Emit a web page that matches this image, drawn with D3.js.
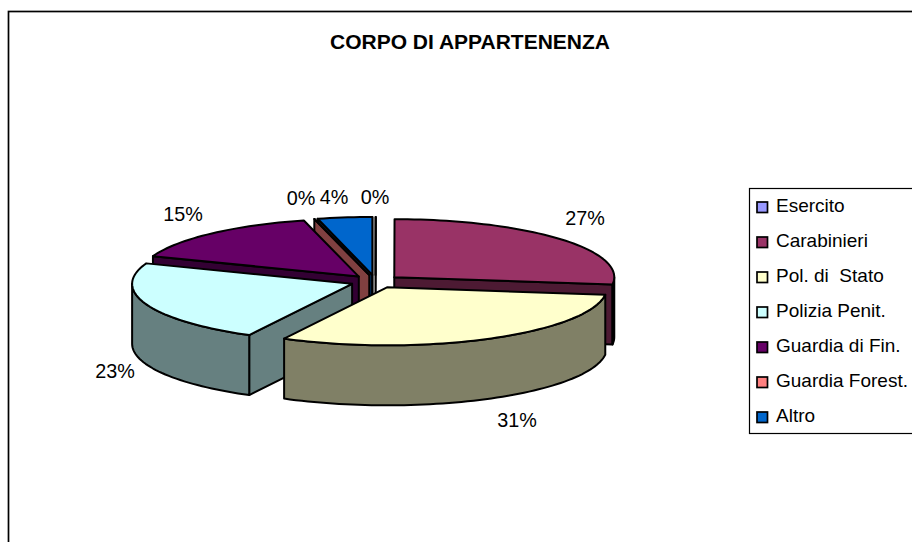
<!DOCTYPE html>
<html><head><meta charset="utf-8">
<style>html,body{margin:0;padding:0;background:#fff}svg{display:block}text{font-family:"Liberation Sans",Arial,sans-serif;fill:#000}</style>
<script src="https://cdn.jsdelivr.net/npm/d3@7/dist/d3.min.js"></script>
</head><body><svg id="c" width="912" height="542"></svg>
<script>
const categories = ["Esercito","Carabinieri","Pol. di  Stato","Polizia Penit.","Guardia di Fin.","Guardia Forest.","Altro"];
const values = [0.02,27,30.75,23,15.25,0.02,4];
const labels = ["0%","27%","31%","23%","15%","0%","4%"];
const topColors = ["#9999FF","#993366","#FFFFCC","#CCFFFF","#660066","#FF8080","#0066CC"];
const wallColors = ["#4D4D80","#4D1A33","#808066","#668080","#330033","#804040","#003366"];
const drawOrder = [0,6,5,1,4,3,2];
const labelPos = [[375,197],[585,218],[517,420],[115,371],[183,214],[301,198],[334,197]];

const svg = d3.select("#c");
const cx=375.5, cy=281.5, rx=220, ry=58, depth=60, explode=25;
const xs = d3.scaleLinear().domain([-1,1]).range([-rx,rx]);
const ys = d3.scaleLinear().domain([-1,1]).range([-ry,ry]);
const arcs = d3.pie().sort(null).value(d=>d)(values);

svg.append("rect").attr("x",8.5).attr("y",11.5).attr("width",950).attr("height",600).attr("fill","#fff").attr("stroke","#000").attr("stroke-width",1.7);

svg.append("text").attr("x",470).attr("y",48.5).attr("text-anchor","middle").attr("font-size",21).attr("font-weight","bold").text("CORPO DI APPARTENENZA");

const line=d3.line();
function pt(a,ox,oy){return [ox+xs(Math.sin(a)),oy+ys(-Math.cos(a))];}
function arcPts(a0,a1,ox,oy){const n=Math.max(2,Math.ceil((a1-a0)/0.03));return d3.range(n+1).map(i=>pt(a0+(a1-a0)*i/n,ox,oy));}
const gp=svg.append("g").attr("stroke","#000").attr("stroke-width",2).attr("stroke-linejoin","round");
drawOrder.forEach(i=>{
  const s=arcs[i], mid=(s.startAngle+s.endAngle)/2;
  const ox=cx+xs(Math.sin(mid))*explode/rx, oy=cy+ys(-Math.cos(mid))*explode/rx;
  const c=[ox,oy], p0=pt(s.startAngle,ox,oy), p1=pt(s.endAngle,ox,oy);
  const d=p=>[p[0],p[1]+depth];
  const wall=pts=>gp.append("path").attr("d",line(pts)+"Z").attr("fill",wallColors[i]);
  if(Math.sin(s.startAngle)<0) wall([c,p0,d(p0),d(c)]);
  if(Math.sin(s.endAngle)>0) wall([c,p1,d(p1),d(c)]);
  const lo=Math.max(s.startAngle,Math.PI/2), hi=Math.min(s.endAngle,Math.PI*1.5);
  if(hi>lo){const o=arcPts(lo,hi,ox,oy);wall(o.concat(o.map(d).reverse()));}
  gp.append("path").attr("d",line([c].concat(arcPts(s.startAngle,s.endAngle,ox,oy)))+"Z").attr("fill",topColors[i]);
});

labels.forEach((t,i)=>svg.append("text").attr("x",labelPos[i][0]).attr("y",labelPos[i][1]+7).attr("text-anchor","middle").attr("font-size",19.8).text(t));

svg.append("rect").attr("x",749.5).attr("y",188.5).attr("width",180).attr("height",245).attr("fill","#fff").attr("stroke","#000").attr("stroke-width",1.2);
const ly=d3.scalePoint().domain(categories).range([207,417]);
categories.forEach((n,i)=>{
  const y=ly(n);
  svg.append("rect").attr("x",757).attr("y",y-5).attr("width",10.5).attr("height",10.5).attr("fill",topColors[i]).attr("stroke","#000").attr("stroke-width",1.7);
  svg.append("text").attr("x",776).attr("y",y+5).attr("font-size",19).style("white-space","pre").text(n);
});
</script></body></html>
